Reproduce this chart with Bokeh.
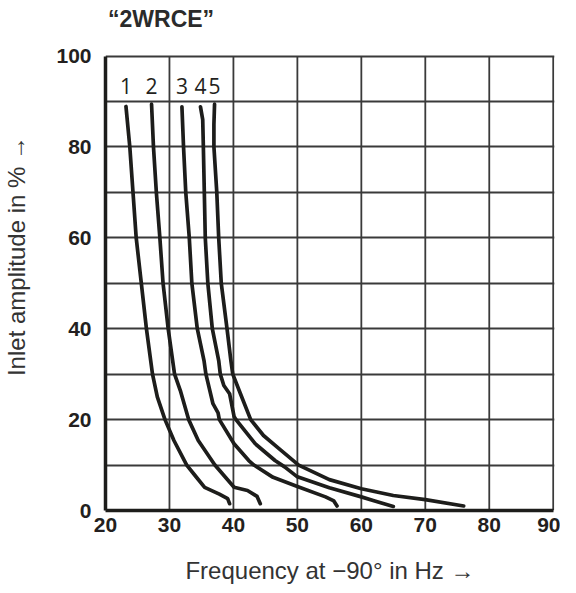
from bokeh.plotting import figure
from bokeh.models import Range1d, FixedTicker
from bokeh.core.properties import value
from bokeh.embed import file_html
from bokeh.resources import INLINE

# ---- data ----
x_ticks = [20, 30, 40, 50, 60, 70, 80, 90]
y_ticks = [0, 20, 40, 60, 80, 100]
y_grid = [10, 20, 30, 40, 50, 60, 70, 80, 90, 100]
curve_names = ["1", "2", "3", "4", "5"]
chart_title = "“2WRCE”"

f1 = [23.2, 23.8, 24.3, 24.8, 25.6, 26.4, 27.35, 28.1, 29.3, 30.7, 32.7, 34.0, 35.5, 37.8, 39.1, 39.4]
a1 = [88.9, 80, 70, 60, 50, 40, 30, 25, 20, 15.4, 10, 7.7, 5.1, 3.6, 2.6, 1.5]

f2 = [27.2, 27.5, 27.95, 28.5, 29.0, 29.8, 30.8, 31.7, 33.0, 34.5, 37.1, 40.1, 42.2, 43.7, 44.2]
a2 = [89.4, 80, 70, 60, 50, 40, 30, 26.4, 20, 15.4, 10, 5.1, 4.4, 3.1, 1.5]

f3 = [31.95, 32.2, 32.55, 33.1, 33.5, 34.35, 35.4, 35.7, 36.8, 37.6, 37.8, 40.1, 42.4, 43.2, 46.2, 50.0, 54.4, 55.7, 56.2]
a3 = [88.8, 80, 70, 60, 50, 40, 33, 30, 23.5, 21.5, 20, 14.7, 11.0, 10, 7.3, 5.3, 3.0, 2.1, 1.0]

f4 = [34.85, 35.2, 35.3, 35.45, 35.6, 36.0, 36.7, 37.7, 37.95, 38.5, 39.4, 40.1, 40.4, 43.4, 46.5, 48.0, 50.0, 55.0, 60.0, 62.1, 65.0]
a4 = [88.8, 86, 80, 70, 60, 50, 40, 33, 30, 27.5, 25.7, 20.7, 20, 14.7, 11.0, 9.6, 7.4, 5.0, 3.0, 2.1, 0.9]

f5 = [37.05, 36.95, 36.95, 37.4, 37.7, 38.1, 39.0, 39.6, 39.9, 41.1, 42.7, 44.7, 46.8, 50.2, 55.0, 60.0, 65.0, 70.0, 76.0]
a5 = [89.4, 85, 80, 70, 60, 50, 40, 33, 30, 25.7, 20, 16.5, 14.0, 10.0, 6.8, 4.8, 3.3, 2.4, 1.0]

curves_f = [f1, f2, f3, f4, f5]
curves_a = [a1, a2, a3, a4, a5]

INK = "#1d1d1b"
GRID = "#3a3a3a"
TITLE_FONT = "Liberation Sans"

# frame extends above 100 % so the chart title can sit inside it
p = figure(width=560, height=590,
           x_range=Range1d(20, 90.2), y_range=Range1d(0, 112),
           output_backend="svg", toolbar_location=None,
           min_border_left=97, min_border_right=6,
           min_border_top=1, min_border_bottom=80)

p.outline_line_color = None
p.background_fill_color = "white"
p.border_fill_color = "white"

for ax in (p.xaxis[0], p.yaxis[0]):
    ax.axis_line_color = INK
    ax.axis_line_width = 3.5
    ax.major_tick_line_color = None
    ax.minor_tick_line_color = None
    ax.major_label_text_font = "Liberation Sans"
    ax.major_label_text_font_style = "bold"
    ax.major_label_text_font_size = "21px"
    ax.major_label_text_color = "#231f20"
    ax.axis_label_text_font = TITLE_FONT
    ax.axis_label_text_font_style = "normal"
    ax.axis_label_text_font_size = "24px"
    ax.axis_label_text_color = "#333333"

p.yaxis.bounds = (0, 100)
p.xaxis.bounds = (20, 90)
p.xaxis.ticker = FixedTicker(ticks=x_ticks)
p.yaxis.ticker = FixedTicker(ticks=y_ticks)
p.xaxis.major_label_standoff = 1
p.yaxis.major_label_standoff = 8
p.xaxis.axis_label = "Frequency at −90° in Hz →"
p.yaxis.axis_label = "Inlet amplitude in % →"
p.xaxis.axis_label_standoff = 22
p.yaxis.axis_label_standoff = 23

# horizontal grid from Bokeh, vertical grid stopped at 100 %
p.xgrid.visible = False
p.ygrid.ticker = FixedTicker(ticks=y_grid)
p.ygrid.grid_line_color = GRID
p.ygrid.grid_line_width = 1.8
p.ygrid.bounds = (20, 90)
vx = x_ticks[1:]
p.segment(x0=vx, y0=[y_ticks[0]] * len(vx), x1=vx, y1=[y_ticks[-1]] * len(vx),
          line_color=GRID, line_width=1.8)

for fx, ay in zip(curves_f, curves_a):
    p.line(fx, ay, line_width=3.7, line_color=INK,
           line_join="round", line_cap="round")

p.text(x=[fx[0] for fx in curves_f], y=[93.3] * len(curves_f), text=curve_names,
       text_align="center", text_baseline="middle",
       text_font=value("Open Sans"), text_font_size="21px", text_color="#231f20")

p.text(x=[20.4], y=[108.25], text=[chart_title],
       text_align="left", text_baseline="middle",
       text_font=value("Liberation Sans"), text_font_style="bold",
       text_font_size="23px", text_color="#2b2b2b")

open("out.html", "w").write(file_html(p, INLINE))
